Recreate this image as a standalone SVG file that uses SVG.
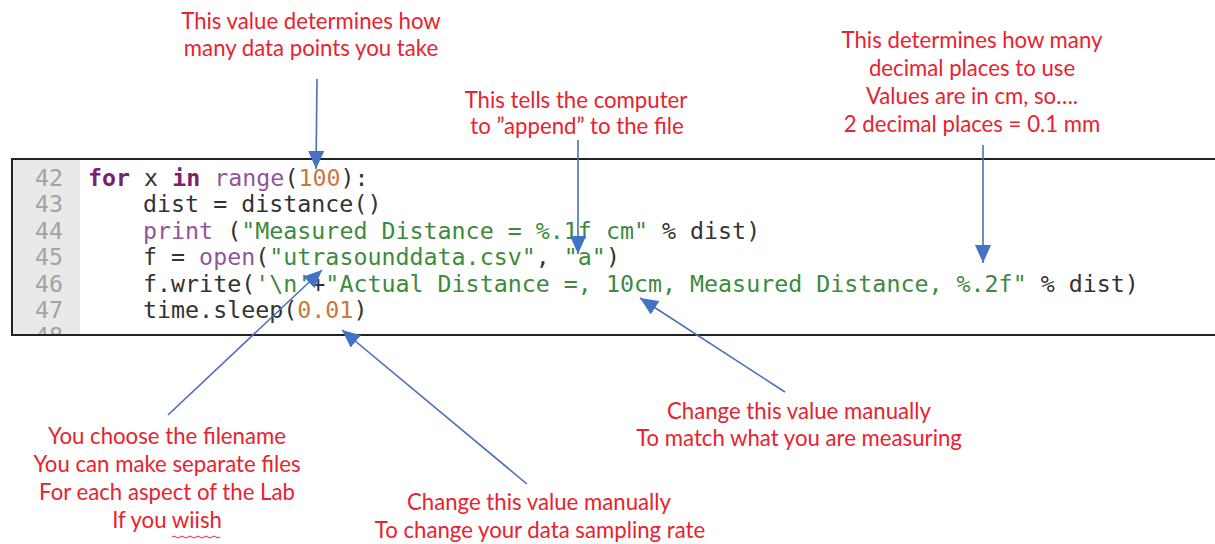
<svg xmlns="http://www.w3.org/2000/svg" width="1215" height="544" viewBox="0 0 1215 544">
<style>
.code{font-family:"DejaVu Sans Mono",monospace;font-size:23.3px;fill:#333333}
.ln{font-family:"DejaVu Sans Mono",monospace;font-size:23.3px;fill:#a3a3a3;text-anchor:end}
.kw{fill:#7d1f6e;font-weight:bold}
.fn{fill:#93549a}
.num{fill:#c7783e}
.str{fill:#3d8a3d}
.note{font-family:Lato,"Liberation Sans",sans-serif;font-size:22.2px;fill:#e8222e;text-anchor:middle}
.arrow{stroke:#4a6fb8;stroke-width:1.6;fill:none;marker-end:url(#head)}
</style>
<defs>
<marker id="head" viewBox="0 0 18 16" refX="18" refY="8" markerWidth="18" markerHeight="16" markerUnits="userSpaceOnUse" orient="auto">
<path d="M0,0 L18,8 L0,16 z" fill="#4472c4"/>
</marker>
<clipPath id="boxclip"><rect x="12" y="159" width="1210" height="176"/></clipPath>
</defs>
<rect width="1215" height="544" fill="#ffffff"/>
<g id="code-panel">
<rect x="12" y="159" width="1210" height="176" fill="#ffffff"/>
<rect x="12" y="159" width="68" height="176" fill="#e9e9e9"/>
<g clip-path="url(#boxclip)">
<text class="ln" x="63" y="186">42</text>
<text class="ln" x="63" y="212.4">43</text>
<text class="ln" x="63" y="238.8">44</text>
<text class="ln" x="63" y="265.2">45</text>
<text class="ln" x="63" y="291.6">46</text>
<text class="ln" x="63" y="318">47</text>
<text class="ln" x="63" y="344.4">48</text>
</g>
<text class="code" x="88" y="186"><tspan class="kw">for</tspan> x <tspan class="kw">in</tspan> <tspan class="fn">range</tspan>(<tspan class="num">100</tspan>):</text>
<text class="code" x="143" y="212.4">dist = distance()</text>
<text class="code" x="143" y="238.8"><tspan class="fn">print</tspan> (<tspan class="str">"Measured Distance = %.1f cm"</tspan> % dist)</text>
<text class="code" x="143" y="265.2">f = <tspan class="fn">open</tspan>(<tspan class="str">"utrasounddata.csv"</tspan>, <tspan class="str">"a"</tspan>)</text>
<text class="code" x="143" y="291.6">f.write(<tspan class="str">'\n'</tspan>+<tspan class="str">"Actual Distance =, 10cm, Measured Distance, %.2f"</tspan> % dist)</text>
<text class="code" x="143" y="318">time.sleep(<tspan class="num">0.01</tspan>)</text>
<path d="M1216,159 H12 V335 H1216" fill="none" stroke="#222222" stroke-width="2"/>
</g>
<g id="note-points">
<text class="note" x="311" y="29">This value determines how</text>
<text class="note" x="311" y="56">many data points you take</text>
</g>
<g id="note-append">
<text class="note" x="576" y="108">This tells the computer</text>
<text class="note" x="577" y="134">to ”append” to the file</text>
</g>
<g id="note-decimal">
<text class="note" x="972" y="48">This determines how many</text>
<text class="note" x="972" y="76">decimal places to use</text>
<text class="note" x="972" y="104">Values are in cm, so….</text>
<text class="note" x="972" y="132">2 decimal places = 0.1 mm</text>
</g>
<g id="note-filename">
<text class="note" x="167" y="444">You choose the filename</text>
<text class="note" x="167" y="472">You can make separate files</text>
<text class="note" x="167" y="500">For each aspect of the Lab</text>
<text class="note" x="167" y="528">If you wiish</text>
<path d="M172,537 q2,-2 4,0 t4,0 t4,0 t4,0 t4,0 t4,0 t4,0 t4,0 t4,0 t4,0 t4,0 t4,0" fill="none" stroke="#e8222e" stroke-width="1"/>
</g>
<g id="note-sampling">
<text class="note" x="539" y="510">Change this value manually</text>
<text class="note" x="540" y="538">To change your data sampling rate</text>
</g>
<g id="note-measure">
<text class="note" x="799" y="419">Change this value manually</text>
<text class="note" x="799" y="446">To match what you are measuring</text>
</g>
<g id="connectors">
<line class="arrow" x1="317" y1="79" x2="316" y2="169"/>
<line class="arrow" x1="578" y1="140" x2="578" y2="254"/>
<line class="arrow" x1="983" y1="145" x2="983" y2="263"/>
<line class="arrow" x1="168" y1="415" x2="322" y2="270"/>
<line class="arrow" x1="527" y1="484" x2="342" y2="330"/>
<line class="arrow" x1="785" y1="392" x2="640" y2="298"/>
</g>
</svg>
